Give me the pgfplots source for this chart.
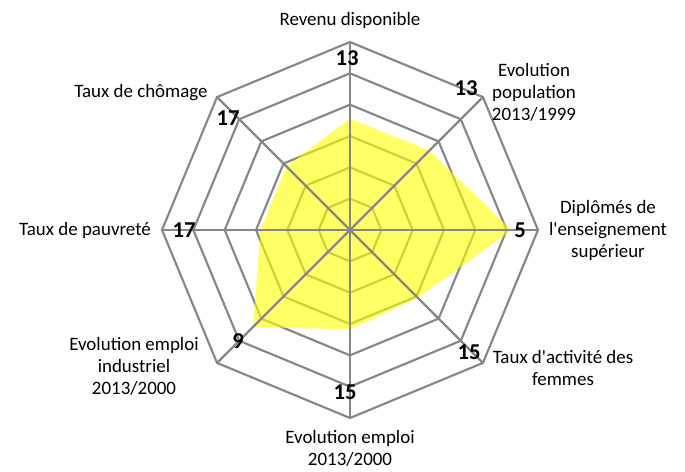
\documentclass[border=0pt]{standalone}
\usepackage{fontspec}
\setmainfont{Carlito}[Ligatures=TeXOff]
\usepackage{pgfplots}
\usepgfplotslibrary{polar}
\pgfplotsset{compat=1.18}
\definecolor{gridgray}{HTML}{878787}
\definecolor{radaryellow}{HTML}{FFFF00}

\begin{document}
\begin{tikzpicture}
\begin{polaraxis}[
    hide axis,
    scale only axis,
    width=282pt, height=282pt,
    xmin=0, xmax=360,
    ymin=0, ymax=6,
    clip=false,
  ]
  % octagonal rings
  \pgfplotsinvokeforeach{1,...,6}{
    \addplot[gridgray, line width=1.6pt, line join=miter]
      coordinates {(0,#1) (45,#1) (90,#1) (135,#1) (180,#1) (225,#1) (270,#1) (315,#1)} -- cycle;
  }
  % data area (clockwise from top)
  \addplot[draw=none, fill=radaryellow, fill opacity=0.6]
    coordinates {(90,3.55) (45,3.58) (0,5.16) (315,3.06) (270,3.17) (225,4.38) (180,2.85) (135,2.87)} -- cycle;
  % spokes
  \addplot[gridgray, line width=1.6pt] coordinates {(90,6) (270,6)};
  \addplot[gridgray, line width=1.6pt] coordinates {(45,6) (225,6)};
  \addplot[gridgray, line width=1.6pt] coordinates {(0,6) (180,6)};
  \addplot[gridgray, line width=1.6pt] coordinates {(135,6) (315,6)};
  \coordinate (c) at (axis cs:0,0);
\end{polaraxis}

\pgfresetboundingbox
\coordinate (tl) at ([shift={(-262.5pt,172.5pt)}]c);
\begin{scope}[shift={(tl)}, x=0.75pt, y=-0.75pt,
    cat/.style={font=\fontsize{14.2}{16.5}\selectfont, align=center, inner sep=0pt},
    val/.style={font=\fontsize{17}{20}\selectfont\bfseries, inner sep=0pt}]
  \path[use as bounding box] (0,0) rectangle (685,471);
  % category labels
  \node[cat] at (350,20) {Revenu disponible};
  \node[cat] at (534,92) {Evolution\\population\\2013/1999};
  \node[cat] at (608,230) {Diplômés de\\l'enseignement\\supérieur};
  \node[cat] at (563,368) {Taux d'activité des\\femmes};
  \node[cat] at (350,448) {Evolution emploi\\2013/2000};
  \node[cat] at (134,366) {Evolution emploi\\industriel\\2013/2000};
  \node[cat] at (85,230) {Taux de pauvreté};
  \node[cat] at (141,93) {Taux de chômage};
  % rank labels
  \node[val] at (347,58) {13};
  \node[val] at (466,88) {13};
  \node[val] at (520,230) {5};
  \node[val] at (469,352) {15};
  \node[val] at (345,392) {15};
  \node[val] at (238,341) {9};
  \node[val] at (184,230) {17};
  \node[val] at (228,118) {17};
\end{scope}
\end{tikzpicture}
\end{document}
